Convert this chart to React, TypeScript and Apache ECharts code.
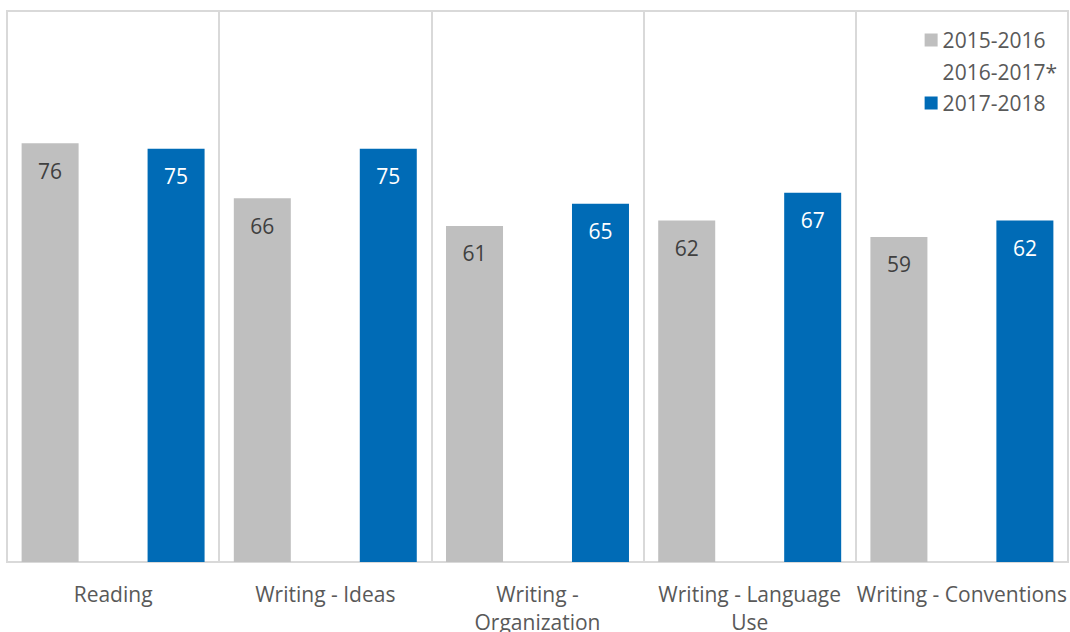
import React, { useEffect, useRef } from "react";
import * as echarts from "echarts";

const categories = [
  "Reading",
  "Writing - Ideas",
  "Writing - Organization",
  "Writing - Language Use",
  "Writing - Conventions",
];
const tickLabels = [
  "Reading",
  "Writing - Ideas",
  "Writing -\nOrganization",
  "Writing - Language\nUse",
  "Writing - Conventions",
];
const seriesNames = ["2015-2016", "2016-2017*", "2017-2018"];
const values2015 = [76, 66, 61, 62, 59];
const values2016: (number | null)[] = [null, null, null, null, null];
const values2017 = [75, 75, 65, 67, 62];

const FONT = "'Open Sans', 'Noto Sans', sans-serif";

export default function App() {
  const ref = useRef<HTMLDivElement>(null);
  useEffect(() => {
    document.body.style.margin = "0";
    const chart = echarts.init(ref.current!, null, { renderer: "svg" });
    const labelMap: Record<string, string> = {};
    categories.forEach((c, i) => (labelMap[c] = tickLabels[i]));
    chart.setOption({
      animation: false,
      textStyle: { fontFamily: FONT },
      grid: {
        left: 7,
        right: 2,
        top: 11,
        bottom: 70,
        outerBoundsMode: "none",
        containLabel: false,
        show: true,
        borderColor: "#d9d9d9",
        borderWidth: 2,
      },
      legend: {
        orient: "vertical",
        right: 8,
        top: 24,
        itemWidth: 13,
        itemHeight: 13,
        itemGap: 9.5,
        icon: "rect",
        textStyle: { color: "#595959", fontSize: 21, lineHeight: 22, fontFamily: FONT },
        data: [
          { name: seriesNames[0] },
          { name: seriesNames[1], itemStyle: { color: "rgba(255,255,255,0)" } },
          { name: seriesNames[2] },
        ],
      },
      xAxis: {
        type: "category",
        data: categories,
        axisTick: { show: false },
        axisLine: { show: true, lineStyle: { color: "#d9d9d9", width: 2 } },
        splitLine: { show: true, lineStyle: { color: "#d9d9d9", width: 2 } },
        axisLabel: {
          color: "#595959",
          fontSize: 21,
          fontFamily: FONT,
          margin: 18,
          lineHeight: 28,
          interval: 0,
          hideOverlap: false,
          formatter: (v: string) => labelMap[v] ?? v,
        },
      },
      yAxis: {
        type: "value",
        min: 0,
        max: 100,
        show: false,
        splitLine: { show: false },
      },
      series: [
        {
          name: seriesNames[0],
          type: "bar",
          data: values2015,
          barWidth: 57,
          barGap: "10.5%",
          itemStyle: { color: "#bfbfbf" },
          label: {
            show: true,
            position: "insideTop",
            distance: 17,
            color: "#404040",
            fontSize: 21,
            fontFamily: FONT,
          },
        },
        {
          name: seriesNames[1],
          type: "bar",
          data: values2016,
          barWidth: 57,
          barGap: "10.5%",
          itemStyle: { color: "rgba(255,255,255,0)" },
        },
        {
          name: seriesNames[2],
          type: "bar",
          data: values2017,
          barWidth: 57,
          barGap: "10.5%",
          itemStyle: { color: "#006bb6" },
          label: {
            show: true,
            position: "insideTop",
            distance: 17,
            color: "#ffffff",
            fontSize: 21,
            fontFamily: FONT,
          },
        },
      ],
    });
    return () => chart.dispose();
  }, []);
  return <div ref={ref} style={{ width: 1070, height: 632 }} />;
}
